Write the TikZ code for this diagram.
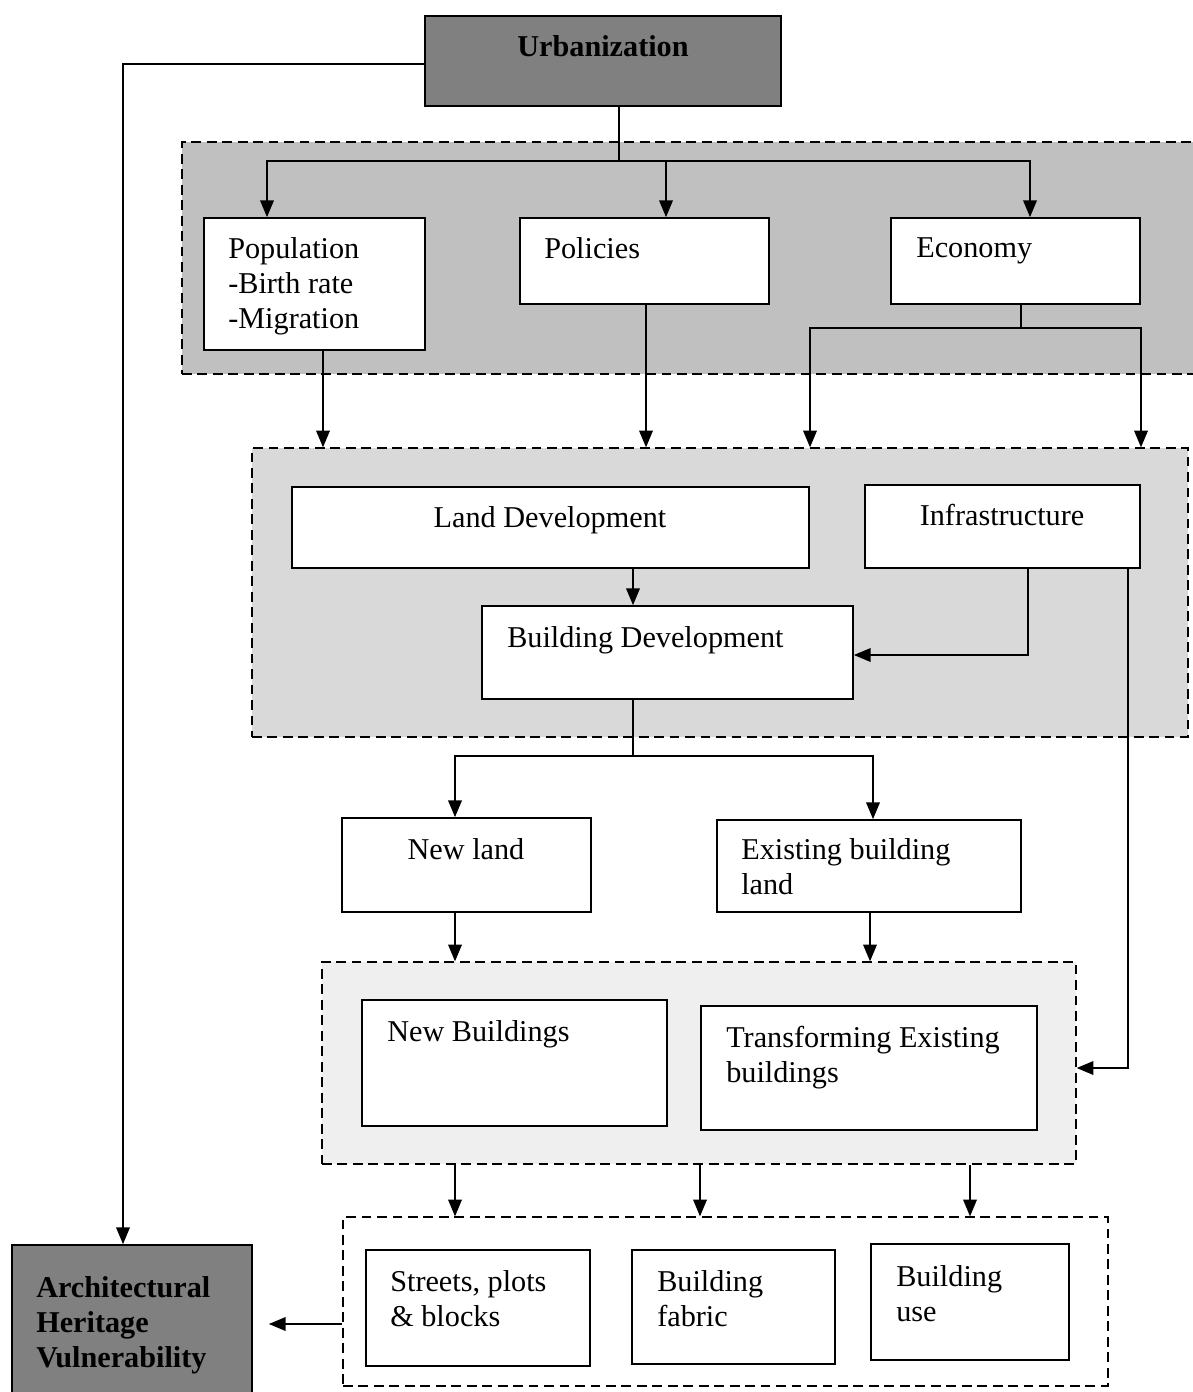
\documentclass[tikz,border=0pt]{standalone}
\usepackage{fontspec}
\setmainfont{Liberation Serif}
\usetikzlibrary{arrows.meta,fit}
\definecolor{darkbox}{HTML}{808080}
\definecolor{frameA}{HTML}{C0C0C0}
\definecolor{frameB}{HTML}{D9D9D9}
\definecolor{frameC}{HTML}{EFEFEF}
\tikzset{
  box/.style={draw, line width=1.2pt, fill=white, inner sep=0pt, rectangle},
  darkbox/.style={box, fill=darkbox},
  frame/.style={draw, line width=0.9pt, inner sep=0pt, rectangle, dash pattern=on 7pt off 4pt},
  conn/.style={line width=1.2pt},
  arr/.style={conn, -{Triangle[length=0.42cm,width=0.34cm]}},
  txt/.style={font=\fontsize{21.5}{25}\selectfont, inner sep=0pt, align=left, anchor=north west},
  btxt/.style={txt, font=\fontsize{21.5}{25}\selectfont\bfseries},
}
\begin{document}
\begin{tikzpicture}[x=0.025cm,y=-0.025cm]
\useasboundingbox (0,0) rectangle (1192,1392);
% frames
\node[frame, fill=frameA, fit={(182,142) (1197,374)}] (f1) {};
\node[frame, fill=frameB, fit={(252,448) (1188,737)}] (f2) {};
\node[frame, fill=frameC, fit={(322,962) (1076,1164)}] (f3) {};
\node[frame, fill=white, fit={(343,1217) (1108,1386)}] (f4) {};
% boxes
\node[darkbox, fit={(425,16) (781,106)}] (urb) {};
\node[box, fit={(204,218) (425,350)}] (pop) {};
\node[box, fit={(520,218) (769,304)}] (pol) {};
\node[box, fit={(891,218) (1140,304)}] (eco) {};
\node[box, fit={(292,487) (809,568)}] (land) {};
\node[box, fit={(865,485) (1140,568)}] (infra) {};
\node[box, fit={(482,606) (853,699)}] (bdev) {};
\node[box, fit={(342,818) (591,912)}] (newland) {};
\node[box, fit={(717,820) (1021,912)}] (exland) {};
\node[box, fit={(362,1000) (667,1126)}] (newb) {};
\node[box, fit={(701,1006) (1037,1130)}] (trans) {};
\node[box, fit={(366,1250) (590,1366)}] (streets) {};
\node[box, fit={(632,1250) (835,1364)}] (fabric) {};
\node[box, fit={(871,1244) (1069,1360)}] (use) {};
\node[darkbox, fit={(12,1245) (252,1400)}] (arch) {};
% texts
\node[btxt, anchor=north] (turb) at (603,35) {Urbanization};
\node[txt] (tpop) at (228,237) {Population\\-Birth rate\\-Migration};
\node[txt] (tpol) at (544,237) {Policies};
\node[txt] (teco) at (916,237) {Economy};
\node[txt, anchor=north] (tland) at (550,506) {Land Development};
\node[txt, anchor=north] (tinfra) at (1002,504) {Infrastructure};
\node[txt] (tbdev) at (507,626) {Building Development};
\node[txt, anchor=north] (tnewland) at (466,838) {New land};
\node[txt] (texland) at (741,838) {Existing building\\land};
\node[txt] (tnewb) at (387,1020) {New Buildings};
\node[txt] (ttrans) at (726,1026) {Transforming Existing\\buildings};
\node[txt] (tstreets) at (390,1270) {Streets, plots\\\& blocks};
\node[txt] (tfabric) at (657,1270) {Building\\fabric};
\node[txt] (tuse) at (896,1265) {Building\\use};
\node[btxt] (tarch) at (36,1276) {Architectural\\Heritage\\Vulnerability};
% connectors
\coordinate (j1) at (619,161);
\draw[conn] (urb.south -| j1) -- (j1);
\draw[arr] (j1) -| (267,0 |- pop.north);
\draw[arr] (j1) -| (1030,0 |- eco.north);
\draw[arr] (666,0 |- j1) -- (666,0 |- pol.north);
\draw[arr] (urb.west |- 0,64) -| (123,0 |- arch.north);
\draw[arr] (323,0 |- pop.south) -- (323,0 |- f2.north);
\draw[arr] (646,0 |- pol.south) -- (646,0 |- f2.north);
\coordinate (j2) at (1021,328);
\draw[conn] (j2 |- eco.south) -- (j2);
\draw[arr] (j2) -| (810,0 |- f2.north);
\draw[arr] (j2) -| (1141,0 |- f2.north);
\draw[arr] (633,0 |- land.south) -- (633,0 |- bdev.north);
\draw[arr] (1028,0 |- infra.south) |- (bdev.east |- 0,655);
\draw[arr] (1128,0 |- infra.south) |- (f3.east |- 0,1068);
\coordinate (j3) at (633,756);
\draw[conn] (j3 |- bdev.south) -- (j3);
\draw[arr] (j3) -| (455,0 |- newland.north);
\draw[arr] (j3) -| (873,0 |- exland.north);
\draw[arr] (455,0 |- newland.south) -- (455,0 |- f3.north);
\draw[arr] (870,0 |- exland.south) -- (870,0 |- f3.north);
\draw[arr] (455,0 |- f3.south) -- (455,0 |- f4.north);
\draw[arr] (700,0 |- f3.south) -- (700,0 |- f4.north);
\draw[arr] (970,0 |- f3.south) -- (970,0 |- f4.north);
\draw[arr, shorten >=16*0.025cm] (f4.west |- 0,1324) -- (arch.east |- 0,1324);
\end{tikzpicture}
\end{document}
